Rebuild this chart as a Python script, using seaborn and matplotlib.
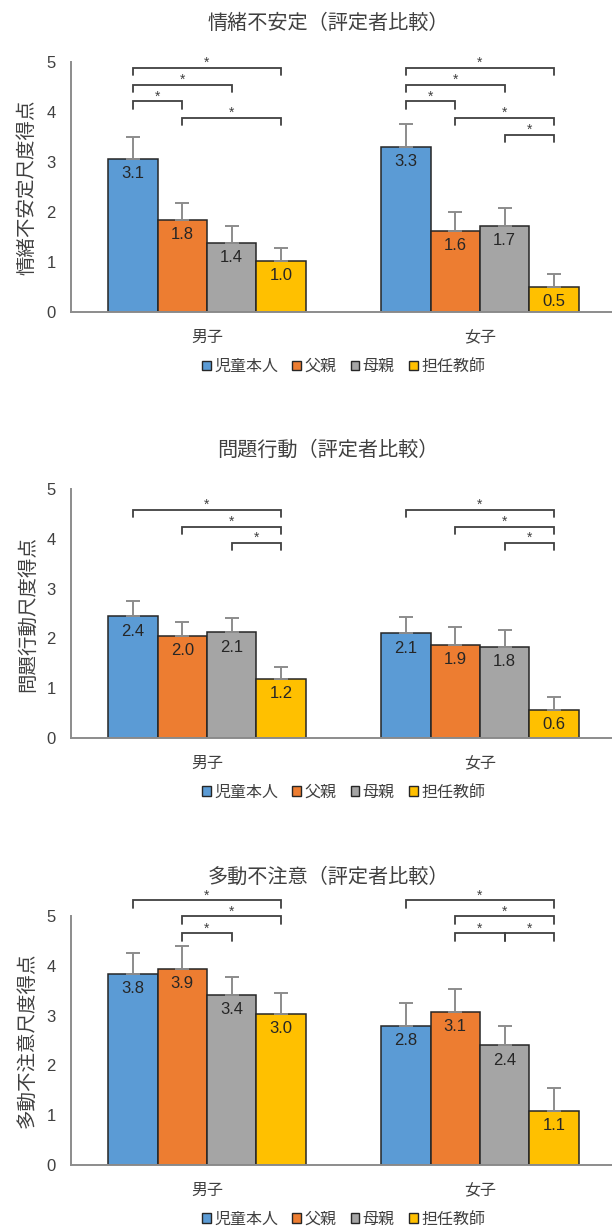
import pandas as pd
import numpy as np
import matplotlib
matplotlib.use("Agg")
import matplotlib.pyplot as plt
import seaborn as sns
from matplotlib.patches import Patch

sns.set_style("white")
plt.rcParams['font.family'] = ['Liberation Sans', 'Noto Sans CJK JP', 'DejaVu Sans']

groups = ["男子", "女子"]
raters = ["児童本人", "父親", "母親", "担任教師"]
colors = ["#5B9BD5", "#ED7D31", "#A5A5A5", "#FFC000"]

titles = ["情緒不安定（評定者比較）", "問題行動（評定者比較）", "多動不注意（評定者比較）"]
ylabels = ["情緒不安定尺度得点", "問題行動尺度得点", "多動不注意尺度得点"]

# means per rater: [男子, 女子]
emo_mean = {"児童本人": [3.07, 3.30], "父親": [1.84, 1.63], "母親": [1.39, 1.73], "担任教師": [1.03, 0.50]}
emo_se = {"児童本人": [0.43, 0.47], "父親": [0.35, 0.37], "母親": [0.34, 0.36], "担任教師": [0.26, 0.26]}
beh_mean = {"児童本人": [2.44, 2.10], "父親": [2.04, 1.87], "母親": [2.12, 1.82], "担任教師": [1.18, 0.56]}
beh_se = {"児童本人": [0.32, 0.33], "父親": [0.29, 0.35], "母親": [0.29, 0.35], "担任教師": [0.25, 0.26]}
hyp_mean = {"児童本人": [3.83, 2.80], "父親": [3.94, 3.07], "母親": [3.41, 2.40], "担任教師": [3.03, 1.08]}
hyp_se = {"児童本人": [0.42, 0.45], "父親": [0.45, 0.46], "母親": [0.37, 0.40], "担任教師": [0.42, 0.47]}

# significant pairs (rater index a, rater index b) per group
emo_sig = [[(0, 3), (0, 2), (0, 1), (1, 3)], [(0, 3), (0, 2), (0, 1), (1, 3), (2, 3)]]
beh_sig = [[(0, 3), (1, 3), (2, 3)], [(0, 3), (1, 3), (2, 3)]]
hyp_sig = [[(0, 3), (1, 3), (1, 2)], [(0, 3), (1, 3), (1, 2), (2, 3)]]

# bracket heights (layout), same order as pairs
emo_lv = [[4.89, 4.55, 4.22, 3.89], [4.89, 4.55, 4.22, 3.89, 3.55]]
beh_lv = [[4.58, 4.24, 3.92], [4.58, 4.24, 3.92]]
hyp_lv = [[5.32, 4.99, 4.65], [5.32, 4.99, 4.65, 4.65]]

panels = [
    (emo_mean, emo_se, emo_sig, emo_lv),
    (beh_mean, beh_se, beh_sig, beh_lv),
    (hyp_mean, hyp_se, hyp_sig, hyp_lv),
]

W, H = 612, 1229
fig = plt.figure(figsize=(W / 100, H / 100), dpi=100)

# axes placement in pixels: (y of value 0, y of value 5)
ax_px = [(312, 62), (738, 489), (1165, 916)]
title_y = [23, 450, 877]
ax_left, ax_right = 70.5, 616.5
txt = "#404040"

for p, (means, ses, sig, lv) in enumerate(panels):
    y0, y5 = ax_px[p]
    ax = fig.add_axes([ax_left / W, (H - y0) / H, (ax_right - ax_left) / W, (y0 - y5) / H])

    rows = []
    for r in raters:
        for g, m in zip(groups, means[r]):
            rows.append({"group": g, "rater": r, "score": m})
    df = pd.DataFrame(rows)

    sns.barplot(data=df, x="group", y="score", hue="rater", order=groups,
                hue_order=raters, palette=colors, saturation=1, width=0.725, gap=0,
                errorbar=None, edgecolor="#262626", linewidth=1.1, ax=ax)

    centers = np.zeros((len(raters), len(groups)))
    tops = np.zeros((len(raters), len(groups)))
    for k, cont in enumerate(ax.containers[:len(raters)]):
        for i, bar in enumerate(cont):
            cx = bar.get_x() + bar.get_width() / 2
            h = bar.get_height()
            centers[k, i] = cx
            tops[k, i] = h
            ax.annotate(f"{h:.1f}", (cx, h), xytext=(0, -10.5), textcoords="offset points",
                        ha="center", va="center", fontsize=12, color="#262626")
        ax.errorbar(centers[k], tops[k], yerr=[np.zeros(len(groups)), ses[raters[k]]],
                    fmt="none", ecolor="#8C8C8C", elinewidth=1.4, capsize=5, capthick=1.4, zorder=1)

    # significance brackets
    for i in range(len(groups)):
        for (a, b), y in zip(sig[i], lv[i]):
            xa, xb = centers[a, i], centers[b, i]
            ax.plot([xa, xa, xb, xb], [y - 0.15, y, y, y - 0.15], color="#404040",
                    lw=1.3, clip_on=False, solid_joinstyle="miter")
            ax.annotate("*", ((xa + xb) / 2, y), xytext=(0, 0.5), textcoords="offset points",
                        ha="center", va="baseline", fontsize=10, color="#404040",
                        annotation_clip=False)

    ax.set_ylim(0, 5)
    ax.set_xlim(-0.5, 1.5)
    ax.set_yticks(range(6))
    ax.set_xlabel("")
    ax.set_ylabel(ylabels[p], fontsize=14, color=txt, labelpad=7)
    ax.tick_params(axis="y", length=0, labelsize=12, colors=txt, pad=10.5)
    ax.tick_params(axis="x", length=0, labelsize=11.5, colors=txt, pad=13)
    sns.despine(ax=ax)
    for s in ["left", "bottom"]:
        ax.spines[s].set_color("#8C8C8C")
        ax.spines[s].set_linewidth(1.4)

    ax.get_legend().remove()
    handles = [Patch(facecolor=c, edgecolor="#262626", linewidth=1.0) for c in colors]
    ax.legend(handles, raters, loc="center", bbox_to_anchor=(0.5, -0.218), ncol=4,
              frameon=False, fontsize=11.5, handlelength=0.55, handleheight=0.55,
              handletextpad=0.2, columnspacing=0.9, labelcolor=txt)

    fig.text(328 / W, 1 - title_y[p] / H, titles[p], ha="center", va="center",
             fontsize=14.5, color=txt)

fig.savefig("out.png", dpi=100)
